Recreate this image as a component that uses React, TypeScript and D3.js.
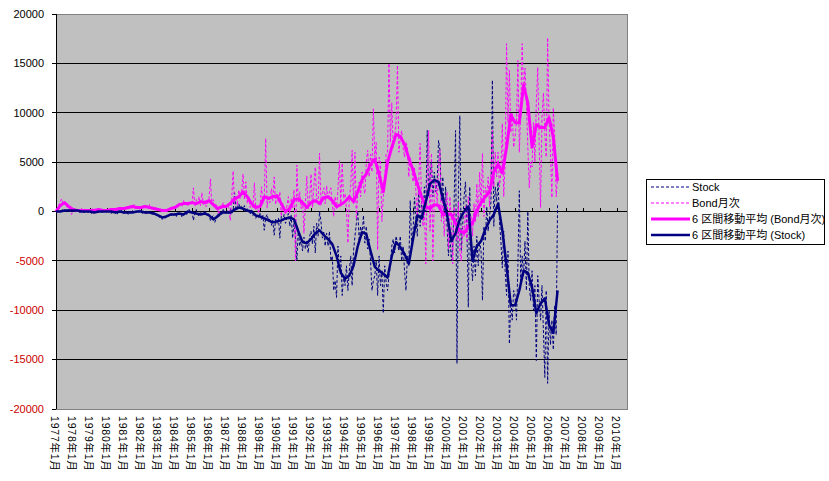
import { useMemo } from "react";
import * as d3 from "d3";

// monthly values, 1977-01 .. 2006-07
const bondMonthly: number[] = [
  100, 400, 600, 1000, 1300, 700, 900, 800, 400, 300, 100, -300, // 1977
  200, 300, 0, 100, 200, -100, 300, 200, 100, 0, 200, 100, // 1978
  100, 0, 300, 200, 100, 0, 200, 300, 100, 200, 0, 100, // 1979
  0, 200, 100, 300, 200, 0, 300, 200, 100, 400, 200, 300, // 1980
  200, 400, 300, 500, 300, 600, 400, 700, 300, 500, 400, 200, // 1981
  500, 300, 600, 400, 500, 300, 700, 400, 300, 200, 400, 300, // 1982
  200, 100, 300, 0, 200, 100, -100, 200, 100, 300, 200, 500, // 1983
  300, 600, 400, 900, 700, 500, 1100, 700, 900, 600, 1000, 800, // 1984
  700, 2400, 500, 1200, 800, 1500, 600, 1900, 700, 1100, 500, 900, // 1985
  1300, 3300, 700, 1200, 400, 800, 200, -300, 600, 300, 900, 500, // 1986
  300, 700, 400, -900, 1200, 4100, 800, 1500, 600, 2200, 1300, 1900, // 1987
  3800, 1200, 3000, 800, 1500, 400, 1000, 300, 2900, 200, 600, -200, // 1988
  500, 2500, 800, 1300, 7400, 400, 1600, 900, 2300, 1100, 3500, 700, // 1989
  1800, 900, 2000, -500, 800, 300, -300, 600, 1500, -200, 1300, 400, // 1990
  2200, -5000, 4700, 900, 2000, 300, 1100, -2200, 800, 3600, 200, 1500, // 1991
  3800, 400, 2500, 4500, 1200, 800, 5900, 600, 1900, 2400, 800, 2600, // 1992
  1200, 2000, 2400, 700, -500, 1500, 300, 2200, 5200, 800, 4900, 1300, // 1993
  1800, 300, -3200, 1400, 2500, 6200, 800, 6000, -800, 2200, 3000, 1500, // 1994
  4000, 2500, 1800, 5000, 6200, 3500, 5800, 4000, 10400, 5500, 7000, -3900, // 1995
  5500, 5000, -1000, 1500, 3000, 5800, 6000, 15000, 7000, 11000, 6500, 7500, // 1996
  9000, 14800, 6000, 7500, 8200, 6500, 5500, 7000, 6500, 3500, 5500, 4500, // 1997
  3000, 4500, 2000, -500, 3000, 6900, 1000, -1500, 500, -5300, 3500, 8200, // 1998
  -2000, 5900, -5000, 1500, 3000, 800, 4500, 6200, -1000, 1200, -2500, 500, // 1999
  2000, -3800, 1500, -800, -5300, 500, -1500, -3000, 1000, -4000, -5000, -1500, // 2000
  -2500, 500, -3000, 1500, -2000, -500, -2500, 800, -1000, 2800, -500, 4000, // 2001
  500, 5900, -500, 2500, 1500, 3500, 500, 4000, 8200, 2500, 6000, 3500, // 2002
  6000, 2500, 4000, 8900, 1500, 5000, 17000, 9000, 14300, 8000, 10000, 6500, // 2003
  7500, 9000, 15300, 6000, 10000, 17000, 12000, 14500, 11000, 6500, 2400, 5000, // 2004
  4500, 9000, 5000, 11000, 14600, 7000, 400, 9500, 12000, 8000, 5500, 17600, // 2005
  9000, 6000, 1400, 10500, 7500, 1500, 3500, // 2006
];

const stockMonthly: number[] = [
  0, 0, 100, 0, 100, 200, 0, 100, 0, 200, 100, 0, // 1977
  100, 0, 200, 100, 0, -100, 100, 0, -100, 100, 0, -100, // 1978
  0, -200, 100, 0, -100, 0, -100, 100, 0, -100, 100, 0, // 1979
  -100, 100, 0, -200, 0, 100, -100, -300, 0, -100, 100, 0, // 1980
  -200, 0, -100, -300, 0, -100, 100, -200, 0, -100, 100, 0, // 1981
  100, -200, 0, -100, -300, 0, -200, -100, -400, -100, -200, -300, // 1982
  -300, -600, -400, -800, -500, -700, -400, -600, -300, -500, -200, -400, // 1983
  -200, -500, -100, -300, -200, -600, -300, 0, -400, -100, 200, -100, // 1984
  0, -900, -100, 200, -300, -500, 0, -200, -400, 100, -300, -200, // 1985
  -300, -900, -600, -400, -1100, -800, -200, -500, 0, -300, 200, -100, // 1986
  -200, 100, -300, 300, -200, 0, 1900, 200, 500, 800, 300, 600, // 1987
  200, 600, -100, 300, 0, -300, 200, -400, -100, -700, -300, -600, // 1988
  -200, -800, -400, -1900, -600, -300, -1000, -700, -1400, -900, -2400, -800, // 1989
  -1200, -700, -2700, -500, -900, -300, -1200, -600, -200, -1500, -400, -2700, // 1990
  -1000, -2500, -5000, -1800, -3500, -2800, -4000, -2600, -3800, -3000, -4200, -2500, // 1991
  -2000, -3300, -1500, -4200, -1200, -2500, 0, -1000, -2700, -2000, -3500, -2200, // 1992
  -3500, -2000, -5000, -4500, -8000, -7000, -8700, -3500, -6000, -4500, -8500, -6500, // 1993
  -7500, -5500, -8000, -6000, -4500, -7500, -4000, -2500, -1200, 0, -3000, -1500, // 1994
  -2500, -400, -3200, -1500, -3800, -2800, -5000, -8000, -7000, -6500, -5000, -8500, // 1995
  -4500, -7500, -6000, -10300, -5500, -7200, -8000, -6500, -5500, -3500, -2800, -4200, // 1996
  -2500, -3200, -4000, -2500, -5000, -3500, -6000, -8000, -4500, -5500, 1100, -3500, // 1997
  -2000, 1400, -500, -2500, 2100, -1500, 1000, -800, 2500, 0, 8200, 1500, // 1998
  3500, 5200, 1500, 4000, 2000, 3000, 7200, 6200, 1000, 3500, -500, 2500, // 1999
  -1500, -4500, -2000, -5000, -3500, 1000, 8200, -15400, 2000, 9700, -4000, -1500, // 2000
  1500, 3000, -1500, -9700, 2500, -5000, -7000, -3500, -6500, -2500, -5500, -3000, // 2001
  -4000, -9000, -1500, -3000, 500, -2000, -500, 1000, 13300, -1500, 2500, 1000, // 2002
  3000, -1000, -3000, -5700, -2000, -6000, -8500, -4000, -13400, -9000, -11000, -8000, // 2003
  -8500, -11000, -5500, 2100, -7000, -4500, -6500, -3000, -8000, 0, -7500, -9000, // 2004
  -6000, -10000, -7500, -15100, -6500, -9000, -11000, -7500, -12000, -16800, -8000, -17400, // 2005
  -10000, -13500, -11000, -14000, -9500, -12500, 800, // 2006
];

// 6 区間移動平均, read every 3 months (Jan, Apr, Jul, Oct)
const bondAvg: number[] = [
  0, 600, 900, 500, 200, 100, 100, 100, 100, 100, 200, 100, 100, 200, 200, 300,
  300, 400, 500, 400, 400, 500, 400, 300, 200, 100, 100, 300, 400, 700, 800, 800,
  900, 800, 1000, 900, 1100, 700, 300, 500, 500, 800, 1300, 1500, 2000, 1500, 800, 400,
  500, 1500, 1300, 1500, 1600, 800, 0, 300, 1200, 1300, 900, 400, 900, 1100, 800, 1400,
  1500, 1100, 500, 700, 1000, 1500, 1000, 2000, 3200, 3800, 4800, 5300, 3800, 2000, 5000, 6500,
  7800, 7600, 6800, 5400, 4200, 2800, 1500, 500, 300, 700, 600, -300, -200, -300, -1200, -2000,
  -2200, -1500, -1200, 100, 900, 1500, 2000, 4000, 4800, 3900, 6500, 9800, 9000, 9000, 12800, 11000,
  6500, 8800, 8500, 8500, 9500, 7500, 3100,
];

const stockAvg: number[] = [
  0, 0, 100, 100, 100, 100, 0, 0, 0, -100, 0, 0, 0, 0, -100, 0,
  -100, -100, -100, 0, 0, -100, -100, -200, -400, -600, -500, -300, -300, -200, -300, 0,
  -100, -200, -300, -200, -400, -800, -500, -100, -100, -100, 200, 400, 300, 100, 0, -400,
  -500, -700, -900, -1100, -1000, -900, -700, -600, -800, -2000, -3100, -3200, -2800, -2200, -1900, -2400,
  -2800, -3300, -4500, -6200, -6800, -6500, -5500, -3500, -2100, -2300, -4000, -5600, -6000, -6300, -6700, -4500,
  -3100, -3600, -4300, -5300, -2800, -400, -700, 1000, 2800, 3200, 3000, 1400, -300, -3000, -2200, -800,
  0, 500, -5000, -3500, -3000, -1800, -900, -300, 800, -1900, -5500, -9500, -9500, -8000, -6000, -6200,
  -7700, -10300, -9300, -8800, -11500, -12300, -8000,
];

const yTicks = [20000, 15000, 10000, 5000, 0, -5000, -10000, -15000, -20000];
const yearLabels = d3.range(1977, 2011).map((y) => `${y}年1月`);

const legendItems = [
  { label: "Stock", color: "#000080", width: 1, dash: "3,2" },
  { label: "Bond月次", color: "#ff00ff", width: 1, dash: "3,2" },
  { label: "6 区間移動平均 (Bond月次)", color: "#ff00ff", width: 3, dash: "" },
  { label: "6 区間移動平均 (Stock)", color: "#000080", width: 2.5, dash: "" },
];

const FONT = "'Liberation Sans', 'Noto Sans CJK JP', sans-serif";

export default function App() {
  const W = 829;
  const H = 481;
  const plot = { left: 56, right: 627, top: 14, bottom: 409 };

  const x = d3.scaleLinear().domain([0, 403]).range([plot.left, plot.right]);
  const y = d3.scaleLinear().domain([-20000, 20000]).range([plot.bottom, plot.top]);

  const paths = useMemo(() => {
    const monthly = d3
      .line<number>()
      .x((_, i) => x(i))
      .y((d) => y(d));
    const quarterly = d3
      .line<number>()
      .x((_, i) => x(i * 3))
      .y((d) => y(d));
    return {
      stock: monthly(stockMonthly) ?? "",
      bond: monthly(bondMonthly) ?? "",
      bondAvg: quarterly(bondAvg) ?? "",
      stockAvg: quarterly(stockAvg) ?? "",
    };
  }, []);

  const y0 = y(0);

  return (
    <svg
      width={W}
      height={H}
      style={{ position: "absolute", left: 0, top: 0, background: "#fff" }}
      fontFamily={FONT}
    >
      <rect
        x={plot.left}
        y={plot.top}
        width={plot.right - plot.left}
        height={plot.bottom - plot.top}
        fill="#c0c0c0"
        stroke="#808080"
        strokeWidth={1}
        shapeRendering="crispEdges"
      />
      {/* gridlines */}
      {yTicks
        .filter((t) => t !== 20000 && t !== -20000)
        .map((t) => (
          <line
            key={t}
            x1={plot.left}
            x2={plot.right}
            y1={y(t)}
            y2={y(t)}
            stroke="#000"
            strokeWidth={1}
            shapeRendering="crispEdges"
          />
        ))}
      {/* y axis */}
      <line
        x1={plot.left}
        x2={plot.left}
        y1={plot.top}
        y2={plot.bottom}
        stroke="#000"
        shapeRendering="crispEdges"
      />
      {yTicks.map((t) => (
        <g key={t}>
          <line
            x1={plot.left - 4}
            x2={plot.left}
            y1={y(t)}
            y2={y(t)}
            stroke="#000"
            shapeRendering="crispEdges"
          />
          <text
            x={44}
            y={y(t)}
            dy="0.35em"
            textAnchor="end"
            fontSize={11}
            fill={t < 0 ? "#cc0000" : "#000"}
          >
            {t}
          </text>
        </g>
      ))}
      {/* category axis ticks on zero line */}
      {yearLabels.map((_, i) => (
        <line
          key={i}
          x1={x(i * 12)}
          x2={x(i * 12)}
          y1={y0 - 4}
          y2={y0}
          stroke="#000"
          shapeRendering="crispEdges"
        />
      ))}

      {/* series */}
      <path d={paths.stock} fill="none" stroke="#000080" strokeWidth={1} strokeDasharray="3,2" />
      <path d={paths.bond} fill="none" stroke="#ff00ff" strokeWidth={1} strokeDasharray="3,2" />
      <path d={paths.bondAvg} fill="none" stroke="#ff00ff" strokeWidth={3} strokeLinejoin="round" />
      <path d={paths.stockAvg} fill="none" stroke="#000080" strokeWidth={2.5} strokeLinejoin="round" />

      {/* x labels */}
      {yearLabels.map((lab, i) => (
        <text
          key={lab}
          transform={`translate(${x(i * 12) - 1},416) rotate(90)`}
          dy="0.35em"
          fontSize={10.5}
          letterSpacing={0.8}
          fill="#000"
        >
          {lab}
        </text>
      ))}

      {/* legend */}
      <rect x={646} y={179} width={178} height={65} fill="#fff" stroke="#000" shapeRendering="crispEdges" />
      {legendItems.map((it, i) => {
        const ly = 187 + i * 16;
        return (
          <g key={it.label}>
            <line
              x1={651}
              x2={690}
              y1={ly}
              y2={ly}
              stroke={it.color}
              strokeWidth={it.width}
              strokeDasharray={it.dash || undefined}
            />
            <text x={692} y={ly} dy="0.35em" fontSize={11} fill="#000">
              {it.label}
            </text>
          </g>
        );
      })}
    </svg>
  );
}
